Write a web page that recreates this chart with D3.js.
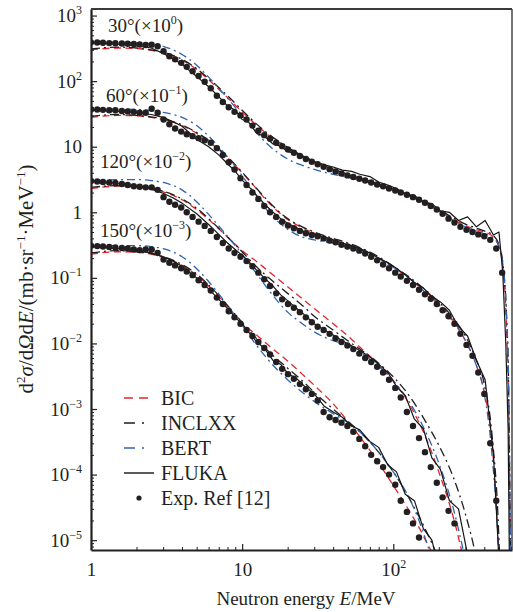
<!DOCTYPE html>
<html>
<head>
<meta charset="utf-8">
<script src="https://cdn.jsdelivr.net/npm/d3@7"></script>
<style>
  body { margin: 0; background: #fff; }
  svg text { font-family: "Liberation Serif", "Times New Roman", serif; fill: #231f20; }
</style>
</head>
<body>
<script>
// ---- data (values as plotted, already scaled by 10^0 .. 10^-3) ----
var angleNames = ["30°", "60°", "120°", "150°"];
var anglePowers = ["0", "\u22121", "\u22122", "\u22123"];
var legendNames = ["BIC", "INCLXX", "BERT", "FLUKA", "Exp. Ref [12]"];
var yTickPowers = [-5, -4, -3, -2, -1, 0, 1, 2, 3];
var xTickPowers = [0, 1, 2];

// experimental energies (MeV)
var eE = [1.0, 1.1, 1.2, 1.32, 1.45, 1.6, 1.75, 1.92, 2.1, 2.3,
  2.52, 2.76, 3.02, 3.3, 3.6, 3.95, 4.3, 4.7, 5.15, 5.65,
  6.2, 6.8, 7.45, 8.15, 8.9, 9.75, 10.7, 11.7, 12.8, 14,
  15.3, 16.8, 18.4, 20.1, 22, 24.1, 26.4, 28.9, 31.6, 34.6,
  37.9, 41.5, 45.4, 49.7, 54.4, 59.6, 65.2, 71.4, 78.2, 85.6,
  93.7, 103, 112, 123, 135, 148, 162, 177, 194, 212,
  232, 254, 278, 305, 334, 365, 400, 438, 480, 525];

var exp30 = [390, 388, 385, 380, 378, 375, 372, 368, 362, 355,
  360, 340, 285, 240, 215, 190, 165, 142, 120, 98,
  78, 60, 48, 40, 34, 30, 26, 21, 17.5, 15,
  13.2, 11.5, 10.2, 9.1, 8.1, 7.2, 6.5, 5.9, 5.4, 4.95,
  4.55, 4.2, 3.9, 3.65, 3.45, 3.25, 3.05, 2.85, 2.65, 2.5,
  2.3, 2.15, 2.0, 1.85, 1.7, 1.55, 1.4, 1.25, 1.1, 0.95,
  0.8, 0.7, 0.6, 0.54, 0.5, 0.46, 0.43, 0.38, 0.28, 0.12];
var exp60 = [37, 37, 36.5, 36, 36, 35, 34.5, 34, 33, 33,
  38, 33, 26, 22, 19, 17, 15.5, 14.5, 13.5, 12.5,
  11.5, 9.5, 7.5, 5.8, 4.5, 3.3, 2.6, 2.0, 1.6, 1.25,
  1.0, 0.85, 0.72, 0.63, 0.57, 0.52, 0.48, 0.45, 0.43, 0.4,
  0.37, 0.35, 0.32, 0.3, 0.28, 0.26, 0.235, 0.21, 0.185, 0.16,
  0.14, 0.12, 0.105, 0.09, 0.078, 0.066, 0.056, 0.048, 0.04, 0.032,
  0.026, 0.02, 0.014, 0.0095, 0.0065, 0.0036, 0.0017, 0.0003, 0.00004];
var exp120 = [3.0, 2.95, 2.9, 2.85, 2.8, 2.7, 2.6, 2.5, 2.45, 2.4,
  2.4, 2.2, 1.7, 1.45, 1.3, 1.18, 1.0, 0.85, 0.72, 0.62,
  0.52, 0.42, 0.34, 0.28, 0.24, 0.21, 0.18, 0.15, 0.12, 0.095,
  0.075, 0.058, 0.047, 0.04, 0.035, 0.03, 0.025, 0.021, 0.018, 0.016,
  0.014, 0.012, 0.0105, 0.0093, 0.0082, 0.007, 0.006, 0.0052, 0.0044, 0.0036,
  0.0028, 0.0021, 0.0015, 0.0009, 0.00055, 0.00036, 0.00022, 0.00013, 0.000075, 0.000045,
  0.000028, 0.000018];
var exp150 = [0.31, 0.305, 0.3, 0.295, 0.29, 0.285, 0.28, 0.27, 0.265, 0.27,
  0.27, 0.24, 0.19, 0.17, 0.155, 0.14, 0.125, 0.11, 0.092, 0.078,
  0.064, 0.05, 0.04, 0.031, 0.025, 0.02, 0.016, 0.013, 0.0105, 0.0085,
  0.0068, 0.0052, 0.0041, 0.0034, 0.0029, 0.0024, 0.002, 0.0017, 0.00135, 0.0009,
  0.00075, 0.00068, 0.00062, 0.00055, 0.00045, 0.00035, 0.00027, 0.0002, 0.00016, 0.00013,
  0.0001, 0.00007, 0.00004, 0.000027, 0.000018, 0.000011];

// model energies (MeV) for BIC / INCLXX / BERT
var mE = [1, 1.5, 2, 2.5, 3, 4, 5, 6, 7, 8,
  10, 12, 15, 20, 25, 30, 40, 50, 60, 80,
  100, 130, 160, 200, 250, 300, 350, 400, 450, 500,
  530, 560, 580, 600];

var bic30 = [300, 320, 315, 295, 270, 210, 150, 105, 75, 56,
  34, 23, 15, 9.5, 7.2, 5.9, 4.5, 3.7, 3.2, 2.6,
  2.2, 1.75, 1.4, 1.05, 0.78, 0.62, 0.55, 0.5, 0.44, 0.3,
  0.15, 0.02, 0.001, 1e-6];
var inclxx30 = [310, 330, 320, 300, 275, 215, 155, 110, 80, 60,
  36, 24, 15.5, 9.8, 7.3, 6.0, 4.6, 3.8, 3.3, 2.7,
  2.25, 1.8, 1.45, 1.1, 0.82, 0.66, 0.58, 0.52, 0.46, 0.32,
  0.17, 0.03, 0.002, 1e-6];
var bert30 = [390, 392, 385, 370, 340, 255, 175, 115, 78, 55,
  30, 18, 10.5, 6.5, 5.2, 4.5, 3.8, 3.4, 3.1, 2.6,
  2.2, 1.75, 1.4, 1.05, 0.75, 0.6, 0.52, 0.47, 0.42, 0.3,
  0.16, 0.03, 0.002, 1e-6];

var bic60 = [28, 30, 29.5, 28, 26, 21, 16, 12, 9, 6.8,
  4.0, 2.5, 1.4, 0.78, 0.58, 0.48, 0.38, 0.32, 0.28, 0.2,
  0.145, 0.095, 0.064, 0.04, 0.022, 0.011, 0.005, 0.0018, 0.0003, 0.000005,
  1e-7, 1e-7, 1e-7, 1e-7];
var inclxx60 = [29, 31, 30, 28.5, 26.5, 21.5, 16.5, 12.5, 9.3, 7.0,
  4.1, 2.55, 1.45, 0.8, 0.6, 0.5, 0.4, 0.34, 0.29, 0.21,
  0.15, 0.1, 0.068, 0.043, 0.024, 0.013, 0.006, 0.0024, 0.0004, 0.00001,
  1e-7, 1e-7, 1e-7, 1e-7];
var bert60 = [37, 37.5, 37, 35.5, 33.5, 28, 21, 14.5, 10, 7,
  3.6, 2.0, 1.0, 0.55, 0.42, 0.38, 0.34, 0.3, 0.27, 0.2,
  0.145, 0.095, 0.062, 0.039, 0.021, 0.011, 0.005, 0.0017, 0.0002, 0.000005,
  1e-7, 1e-7, 1e-7, 1e-7];

var bic120 = [2.3, 2.5, 2.45, 2.3, 2.05, 1.55, 1.1, 0.78, 0.56, 0.42,
  0.26, 0.19, 0.125, 0.073, 0.048, 0.034, 0.02, 0.013, 0.0088, 0.0048,
  0.0027, 0.0011, 0.00042, 0.00011, 0.000022, 0.000004, 1e-6, 1e-7, 1e-7, 1e-7,
  1e-7, 1e-7, 1e-7, 1e-7];
var inclxx120 = [2.4, 2.55, 2.5, 2.35, 2.1, 1.6, 1.15, 0.8, 0.57, 0.42,
  0.25, 0.16, 0.1, 0.058, 0.038, 0.026, 0.016, 0.011, 0.0082, 0.005,
  0.0031, 0.0015, 0.0007, 0.00028, 0.00009, 0.000025, 0.000006, 1e-6, 1e-7, 1e-7,
  1e-7, 1e-7, 1e-7, 1e-7];
var bert120 = [3.0, 3.15, 3.15, 3.05, 2.85, 2.2, 1.45, 0.93, 0.62, 0.43,
  0.23, 0.13, 0.065, 0.03, 0.02, 0.015, 0.011, 0.0095, 0.0075, 0.0045,
  0.0027, 0.0012, 0.0005, 0.00015, 0.00003, 0.000005, 1e-6, 1e-7, 1e-7, 1e-7,
  1e-7, 1e-7, 1e-7, 1e-7];

var bic150 = [0.23, 0.25, 0.245, 0.23, 0.205, 0.155, 0.11, 0.075, 0.052, 0.036,
  0.02, 0.0145, 0.0093, 0.0054, 0.0034, 0.0023, 0.0012, 0.00065, 0.00038, 0.00015,
  0.000068, 0.000026, 0.000011, 0.000003, 1e-7, 1e-7, 1e-7, 1e-7, 1e-7, 1e-7,
  1e-7, 1e-7, 1e-7, 1e-7];
var inclxx150 = [0.24, 0.26, 0.25, 0.235, 0.21, 0.16, 0.115, 0.078, 0.054, 0.038,
  0.021, 0.013, 0.0075, 0.0042, 0.0027, 0.0018, 0.001, 0.00065, 0.00045, 0.00022,
  0.00011, 0.00004, 0.000016, 0.000005, 1e-6, 1e-7, 1e-7, 1e-7, 1e-7, 1e-7,
  1e-7, 1e-7, 1e-7, 1e-7];
var bert150 = [0.3, 0.31, 0.31, 0.3, 0.28, 0.21, 0.138, 0.088, 0.057, 0.038,
  0.019, 0.0105, 0.0055, 0.0028, 0.0018, 0.0013, 0.00085, 0.00062, 0.00045, 0.00022,
  0.00011, 0.00004, 0.000012, 0.000002, 1e-7, 1e-7, 1e-7, 1e-7, 1e-7, 1e-7,
  1e-7, 1e-7, 1e-7, 1e-7];

// FLUKA energies (MeV), finer binning
var fE = [1, 1.25, 1.5, 2, 2.5, 3, 3.5, 4, 5, 6,
  7, 8, 9, 10, 11, 12.5, 14, 16, 18, 20,
  23, 26, 30, 35, 40, 46, 53, 60, 70, 80,
  92, 105, 120, 138, 158, 180, 205, 235, 270, 310,
  355, 405, 460, 500, 530, 555, 575, 590];
var fluka30 = [380, 375, 365, 345, 320, 265, 220, 180, 118, 82,
  58, 42, 36, 26, 24, 16, 14.5, 11, 10.2, 8.4,
  7.8, 6.6, 5.9, 5.3, 4.9, 4.4, 4.2, 3.8, 3.5, 2.9,
  2.6, 2.3, 1.9, 1.8, 1.45, 1.35, 1.05, 1.0, 0.75, 0.85,
  0.6, 0.75, 0.45, 0.5, 0.12, 0.01, 0.0005, 1e-6];
var fluka60 = [36, 35.5, 35, 33, 31, 28, 24, 20.5, 13, 10,
  7.5, 5.5, 4.2, 3.1, 2.5, 1.8, 1.35, 1.0, 0.8, 0.68,
  0.58, 0.5, 0.46, 0.42, 0.38, 0.34, 0.31, 0.28, 0.24, 0.2,
  0.17, 0.14, 0.11, 0.085, 0.07, 0.052, 0.043, 0.032, 0.018, 0.013,
  0.0055, 0.0028, 0.0002, 0.000005, 1e-7, 1e-7, 1e-7, 1e-7];
var fluka120 = [2.9, 2.85, 2.75, 2.5, 2.25, 1.95, 1.65, 1.38, 0.95, 0.65,
  0.46, 0.34, 0.27, 0.22, 0.18, 0.13, 0.1, 0.075, 0.055, 0.045,
  0.034, 0.027, 0.02, 0.016, 0.0135, 0.011, 0.0092, 0.0078, 0.0062, 0.0048,
  0.0036, 0.0022, 0.0016, 0.0007, 0.0005, 0.00018, 0.00012, 0.00004, 0.00003, 0.000006,
  1e-6, 1e-7, 1e-7, 1e-7, 1e-7, 1e-7, 1e-7, 1e-7];
var fluka150 = [0.3, 0.29, 0.28, 0.26, 0.24, 0.21, 0.18, 0.15, 0.1, 0.068,
  0.047, 0.034, 0.025, 0.02, 0.015, 0.0105, 0.0085, 0.0055, 0.0048, 0.0035,
  0.0029, 0.0022, 0.0017, 0.0011, 0.0009, 0.00075, 0.00055, 0.00048, 0.00032, 0.00026,
  0.00014, 0.00011, 0.00005, 0.00004, 0.000015, 0.00001, 0.000003, 1e-6, 1e-7, 1e-7,
  1e-7, 1e-7, 1e-7, 1e-7, 1e-7, 1e-7, 1e-7, 1e-7];

// ---- layout ----
var margin = { top: 9, right: 1, bottom: 62, left: 91 },
    width = 513 - margin.left - margin.right,
    height = 612 - margin.top - margin.bottom;

var x = d3.scaleLog().domain([1, 610]).range([0, width]);
var y = d3.scaleLog().domain([Math.pow(10, -5.15), Math.pow(10, 3.1)]).range([height, 0]);

var colors = { bic: "#e3262c", inclxx: "#1e1e1e", bert: "#2f63ad", fluka: "#151515", exp: "#231f20" };
var dashes = { bic: "7,4.5", inclxx: "9,4,2,4", bert: "8,4,2,4", fluka: null };

var svg = d3.select("body").append("svg")
    .attr("width", 513)
    .attr("height", 612);

var g = svg.append("g")
    .attr("transform", "translate(" + margin.left + "," + margin.top + ")");

g.append("clipPath").attr("id", "plotclip")
  .append("rect").attr("width", width).attr("height", height);

var plot = g.append("g").attr("clip-path", "url(#plotclip)");

var sets = [
  { exp: exp30, bic: bic30, inclxx: inclxx30, bert: bert30, fluka: fluka30 },
  { exp: exp60, bic: bic60, inclxx: inclxx60, bert: bert60, fluka: fluka60 },
  { exp: exp120, bic: bic120, inclxx: inclxx120, bert: bert120, fluka: fluka120 },
  { exp: exp150, bic: bic150, inclxx: inclxx150, bert: bert150, fluka: fluka150 }
];

var smooth = d3.line()
    .x(function (d) { return x(d[0]); })
    .y(function (d) { return y(d[1]); })
    .curve(d3.curveMonotoneX);

var jagged = d3.line()
    .x(function (d) { return x(d[0]); })
    .y(function (d) { return y(d[1]); });

sets.forEach(function (s) {
  ["bic", "inclxx", "bert"].forEach(function (k) {
    plot.append("path")
      .datum(d3.zip(mE, s[k]))
      .attr("d", smooth)
      .attr("fill", "none")
      .attr("stroke", colors[k])
      .attr("stroke-width", 1.3)
      .attr("stroke-dasharray", dashes[k]);
  });
  plot.append("path")
    .datum(d3.zip(fE, s.fluka))
    .attr("d", jagged)
    .attr("fill", "none")
    .attr("stroke", colors.fluka)
    .attr("stroke-width", 1.2)
    .attr("stroke-linejoin", "round");
});

sets.forEach(function (s) {
  plot.selectAll(null)
    .data(d3.zip(eE, s.exp))
    .enter()
    .append("circle")
    .attr("cx", function (d) { return x(d[0]); })
    .attr("cy", function (d) { return y(d[1]); })
    .attr("r", 3.2)
    .attr("fill", colors.exp);
});

// ---- axes ----
var yMajor = yTickPowers.map(function (p) { return Math.pow(10, p); });
var yMinor = [];
for (var k = -6; k <= 3; k++) {
  for (var m = 2; m <= 9; m++) {
    var v = m * Math.pow(10, k);
    if (v >= y.domain()[0] && v <= y.domain()[1]) yMinor.push(v);
  }
}
var xMajor = xTickPowers.map(function (p) { return Math.pow(10, p); });
var xMinor = [];
for (var kx = 0; kx <= 2; kx++) {
  for (var mx = 2; mx <= 9; mx++) {
    var vx = mx * Math.pow(10, kx);
    if (vx <= x.domain()[1]) xMinor.push(vx);
  }
}

function powLabel(sel, p) {
  sel.text(null);
  if (p === 0) { sel.text("1"); return; }
  if (p === 1) { sel.text("10"); return; }
  sel.append("tspan").text("10");
  sel.append("tspan").attr("dy", -8).attr("font-size", 12)
    .text(p < 0 ? "\u2212" + (-p) : String(p));
}

// minor ticks
g.append("g")
  .call(d3.axisLeft(y).tickValues(yMinor).tickSizeInner(-3).tickSizeOuter(0).tickFormat(""))
  .call(function (a) { a.select(".domain").remove(); })
  .selectAll("line").attr("stroke", "#231f20");
g.append("g")
  .attr("transform", "translate(0," + height + ")")
  .call(d3.axisBottom(x).tickValues(xMinor).tickSizeInner(-3).tickSizeOuter(0).tickFormat(""))
  .call(function (a) { a.select(".domain").remove(); })
  .selectAll("line").attr("stroke", "#231f20");

// major ticks + labels
var yAxis = g.append("g")
  .call(d3.axisLeft(y).tickValues(yMajor).tickSizeInner(-6).tickSizeOuter(0).tickPadding(9))
  .attr("font-family", null).attr("font-size", 19);
yAxis.select(".domain").attr("stroke", "#231f20").attr("stroke-width", 2.2);
yAxis.selectAll(".tick line").attr("stroke", "#231f20").attr("stroke-width", 1.2);
yAxis.selectAll(".tick text").each(function (d) {
  powLabel(d3.select(this), Math.round(Math.log10(d)));
});

var xAxis = g.append("g")
  .attr("transform", "translate(0," + height + ")")
  .call(d3.axisBottom(x).tickValues(xMajor).tickSizeInner(-6).tickSizeOuter(0).tickPadding(13))
  .attr("font-family", null).attr("font-size", 19);
xAxis.select(".domain").attr("stroke", "#231f20").attr("stroke-width", 2.2);
xAxis.selectAll(".tick line").attr("stroke", "#231f20").attr("stroke-width", 1.2);
xAxis.selectAll(".tick text").each(function (d) {
  powLabel(d3.select(this), Math.round(Math.log10(d)));
});

// top / right frame
g.append("line").attr("x1", 0).attr("x2", width).attr("y1", 0).attr("y2", 0)
  .attr("stroke", "#3a3a3a").attr("stroke-width", 1.8);
g.append("line").attr("x1", width).attr("x2", width).attr("y1", 0).attr("y2", height)
  .attr("stroke", "#3a3a3a").attr("stroke-width", 1.4);

// ---- angle labels ----
var angleLabelPos = [[17, 23], [15, 93], [9, 159], [9, 228]];
angleNames.forEach(function (n, i) {
  var t = g.append("text")
    .attr("x", angleLabelPos[i][0])
    .attr("y", angleLabelPos[i][1])
    .attr("font-size", 19);
  t.append("tspan").text(n + "(\u00d710");
  t.append("tspan").attr("dy", -8).attr("font-size", 12).text(anglePowers[i]);
  t.append("tspan").attr("dy", 8).text(")");
});

// ---- legend ----
var legend = g.append("g").attr("transform", "translate(31,389)");
var legendKeys = ["bic", "inclxx", "bert", "fluka", "exp"];
legendNames.forEach(function (n, i) {
  var row = legend.append("g").attr("transform", "translate(0," + (i * 25) + ")");
  var k = legendKeys[i];
  if (k === "exp") {
    row.append("circle").attr("cx", 17).attr("cy", 0).attr("r", 2.6).attr("fill", colors.exp);
  } else {
    row.append("line")
      .attr("x1", 2).attr("x2", 32).attr("y1", 0).attr("y2", 0)
      .attr("stroke", colors[k])
      .attr("stroke-width", 1.4)
      .attr("stroke-dasharray", k === "bic" ? "9,6" : (k === "fluka" ? null : "11,7,2,20"));
  }
  row.append("text")
    .attr("x", 39)
    .attr("dy", "0.35em")
    .attr("font-size", 20)
    .text(n);
});

// ---- axis titles ----
var xt = svg.append("text")
  .attr("x", 306)
  .attr("y", 605)
  .attr("text-anchor", "middle")
  .attr("font-size", 19);
xt.append("tspan").text("Neutron energy ");
xt.append("tspan").attr("font-style", "italic").text("E");
xt.append("tspan").text("/MeV");

var yt = svg.append("text")
  .attr("transform", "translate(33,279) rotate(-90)")
  .attr("text-anchor", "middle")
  .attr("font-size", 21);
yt.append("tspan").text("d");
yt.append("tspan").attr("dy", -8).attr("font-size", 13).text("2");
yt.append("tspan").attr("dy", 8).attr("font-style", "italic").text("\u03c3");
yt.append("tspan").text("/d");
yt.append("tspan").attr("font-style", "italic").text("\u03a9");
yt.append("tspan").text("d");
yt.append("tspan").attr("font-style", "italic").text("E");
yt.append("tspan").text("/(mb\u00b7sr");
yt.append("tspan").attr("dy", -8).attr("font-size", 13).text("\u22121");
yt.append("tspan").attr("dy", 8).text("\u00b7MeV");
yt.append("tspan").attr("dy", -8).attr("font-size", 13).text("\u22121");
yt.append("tspan").attr("dy", 8).text(")");
</script>
</body>
</html>
